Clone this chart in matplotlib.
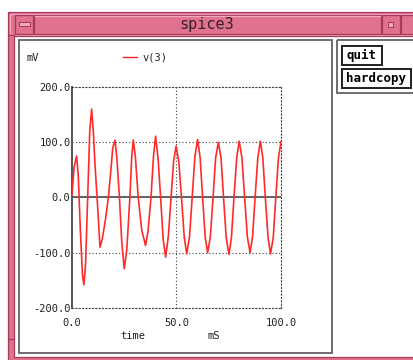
import matplotlib
matplotlib.use("Agg")
import matplotlib.pyplot as plt
from matplotlib.patches import Rectangle

# transient of v(3), mS / mV
t_ms = [0.0, 1.0, 2.2, 3.0, 4.0, 5.0, 5.7, 6.5, 7.5, 8.5, 9.4, 10.2, 11.0, 12.0,
        13.4, 14.5, 16.0, 17.4, 18.5, 19.5, 20.6, 21.5, 22.7, 23.8, 25.0, 26.2,
        27.7, 28.6, 29.3, 30.3, 31.7, 33.4, 35.2, 36.4, 37.8, 39.0, 40.0, 41.2,
        42.4, 43.6, 44.8, 46.1, 47.4, 48.6, 49.8, 51.1, 52.4, 53.7, 54.9, 56.2,
        57.5, 58.8, 60.1, 61.3, 62.5, 63.7, 64.9, 66.2, 67.5, 68.7, 70.0, 71.3,
        72.5, 73.8, 75.1, 76.3, 77.5, 78.8, 80.0, 81.3, 82.6, 83.9, 85.2, 86.4,
        87.6, 88.9, 90.1, 91.3, 92.5, 93.8, 95.0, 96.3, 97.5, 98.8, 100.0]
v_mV = [5, 55, 75, 40, -60, -140, -158, -120, 0, 120, 160, 120, 60, 0,
        -90, -75, -40, 0, 45, 90, 104, 70, 0, -80, -129, -95,
        0, 75, 104, 75, 0, -60, -87, -60, 0, 75, 111, 70,
        0, -75, -108, -70, 0, 65, 93, 65, 0, -72, -102, -72,
        0, 74, 105, 72, 0, -71, -100, -71, 0, 71, 100, 72,
        0, -73, -103, -72, 0, 72, 102, 72, 0, -71, -100, -71,
        0, 72, 102, 72, 0, -72, -102, -72, 0, 72, 101]

y_ticks = [-200, -100, 0, 100, 200]
y_labels = ["-200.0", "-100.0", "0.0", "100.0", "200.0"]
x_ticks = [0, 50, 100]
x_labels = ["0.0", "50.0", "100.0"]

W, H = 414, 360
PINK = "#e0728f"
LIGHT = "#f3a9bd"
DARK = "#a8385c"
MONO = "DejaVu Sans Mono"

fig = plt.figure(figsize=(W / 100, H / 100), dpi=100)
fig.patch.set_facecolor("white")

# window chrome drawn in pixel coordinates
bg = fig.add_axes([0, 0, 1, 1])
bg.set_xlim(0, W)
bg.set_ylim(H, 0)
bg.axis("off")


def box(x0, y0, x1, y1, fc="none", ec="none", lw=0.72, z=1):
    bg.add_patch(Rectangle((x0, y0), x1 - x0, y1 - y0, facecolor=fc,
                           edgecolor=ec, linewidth=lw, zorder=z))


# frame around the window
box(8, 12, W + 2, H + 2, fc=PINK, ec=DARK, lw=0.9)
box(10, 13.5, W + 2, 35, fc=PINK, ec=LIGHT, lw=0.9)
box(14, 36, W + 2, 357, fc="white", ec=DARK, lw=0.9, z=2)
# menu button and title bar
box(15, 14.5, 33, 34, fc=PINK, ec=DARK, lw=0.9, z=2)
box(19, 22, 30, 26, fc=LIGHT, ec=DARK, lw=0.7, z=3)
box(34, 14.5, 381, 34, fc=PINK, ec=DARK, lw=0.9, z=2)
bg.plot([35, 380], [15.5, 15.5], color=LIGHT, lw=0.9, zorder=3)
box(382, 14.5, 400, 34, fc=PINK, ec=DARK, lw=0.9, z=2)
box(388.5, 22, 393, 26.5, fc=LIGHT, ec=DARK, lw=0.7, z=3)
box(401, 14.5, W + 2, 34, fc=PINK, ec=DARK, lw=0.9, z=2)
bg.plot([8, 14], [35, 35], color=DARK, lw=0.9, zorder=3)
bg.plot([8, 14], [339, 339], color=DARK, lw=0.9, zorder=3)
bg.text(207, 24.5, "spice3", family=MONO, fontsize=11, color="#3a2028",
        ha="center", va="center", zorder=4)

# plot panel and button panel
box(19, 40, 332, 353, ec="#6e6e6e", lw=1.4, z=3)
box(337, 40, W + 5, 93, ec="#6e6e6e", lw=1.4, z=3)
box(342, 46, 382, 65, ec="#202020", lw=1.4, z=3)
box(342, 69, 411, 88, ec="#202020", lw=1.4, z=3)
bg.text(362, 55.5, "quit", family=MONO, fontsize=9, weight="bold",
        ha="center", va="center", zorder=4)
bg.text(376.5, 78.5, "hardcopy", family=MONO, fontsize=9, weight="bold",
        ha="center", va="center", zorder=4)

# axis captions and legend
small = dict(family=MONO, fontsize=7.5, color="#202020", zorder=4)
bg.text(33, 58, "mV", ha="center", va="center", **small)
bg.plot([123, 137], [57, 57], color="#ff2020", lw=1.0, zorder=4)
bg.text(143, 58, "v(3)", ha="left", va="center", **small)
bg.text(133, 336, "time", ha="center", va="center", **small)
bg.text(214, 336, "mS", ha="center", va="center", **small)

# data axes
ax = fig.add_axes([72 / W, 1 - 308 / H, 209 / W, 221 / H])
ax.set_zorder(5)
ax.patch.set_alpha(0)
ax.set_xlim(0, 100)
ax.set_ylim(-200, 200)

ax.plot(t_ms, v_mV, color="#ff2a2a", lw=1.2, zorder=3)
ax.axhline(0, color="#606060", lw=1.4, zorder=2)
for y in (-100, 100):
    ax.axhline(y, color="#404040", lw=0.8, ls=(0, (1, 2)), zorder=1)
ax.axvline(50, color="#404040", lw=0.8, ls=(0, (1, 2)), zorder=1)

for side in ("top", "right", "bottom"):
    ax.spines[side].set_linestyle((0, (1, 2)))
    ax.spines[side].set_linewidth(0.8)
    ax.spines[side].set_color("#404040")
ax.spines["left"].set_color("#555555")
ax.spines["left"].set_linewidth(1.4)

ax.set_yticks(y_ticks)
ax.set_yticklabels(y_labels, family=MONO, fontsize=7.5, color="#202020")
ax.set_xticks(x_ticks)
ax.set_xticklabels(x_labels, family=MONO, fontsize=7.5, color="#202020")
ax.tick_params(axis="y", length=0, pad=1)
ax.tick_params(axis="x", length=0, pad=7)

fig.savefig("out.png", dpi=100)
